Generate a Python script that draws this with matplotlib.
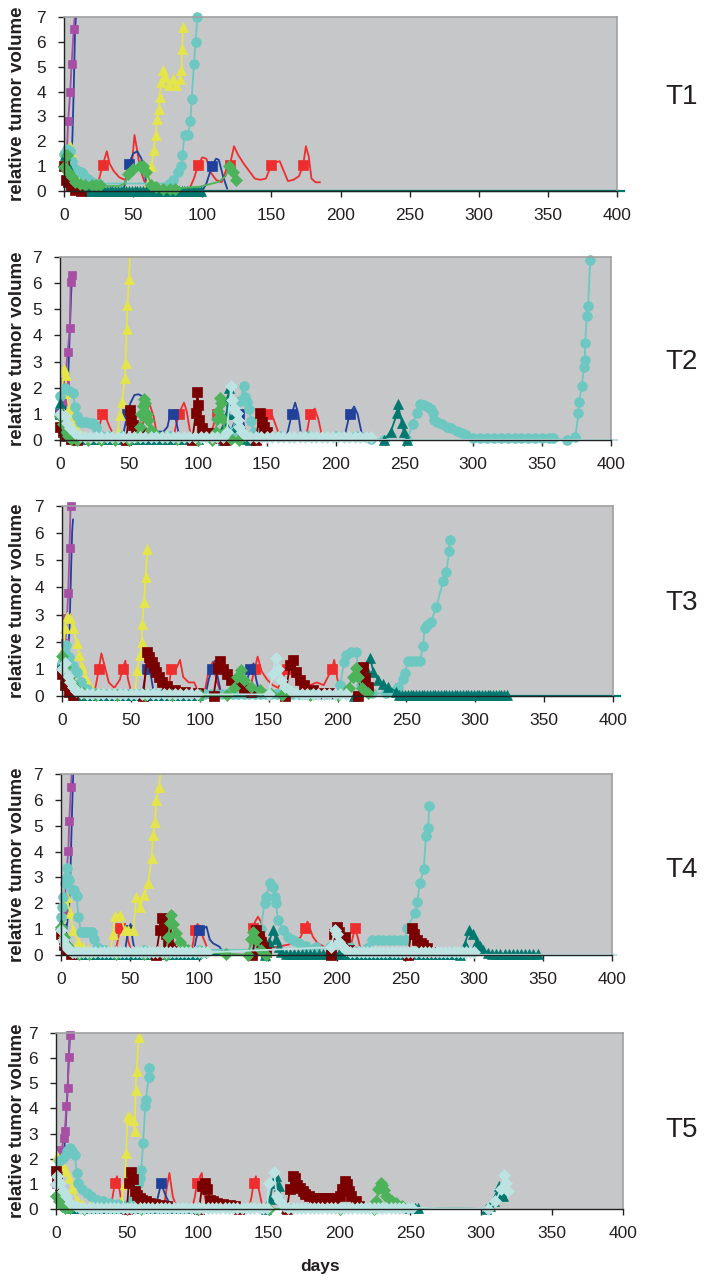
import numpy as np
import matplotlib.pyplot as plt

plt.rcParams['font.family'] = ['Liberation Sans', 'DejaVu Sans']

nan = np.nan


def days(a, b, step):
    return list(np.arange(a, b + 0.001, step))


# ---------------- T1 ----------------
t1_red_x = [22, 25, 28, 31, 33, 36, 40, 44, 47, 49, 51, 53, 55, 58, 61, 64, 90, 94, 97, 100,
            103, 106, 110, 114, 117, 120, 123, 126, 130, 134, 138, 142, 146, 150, 153, 156, 159, 162, 166, 170,
            173, 175, 177, 179, 182, 185]
t1_red_y = [0.0, 0.4, 1.05, 1.6, 1.1, 0.8, 0.55, 0.45, 0.6, 1.0, 2.25, 1.6, 0.9, 0.4, 0.15, 0.0, 0.0, 0.5, 1.05, 1.35,
            1.3, 0.75, 0.45, 0.35, 0.8, 1.05, 1.8, 1.45, 1.1, 0.8, 0.5, 0.45, 0.5, 1.05, 1.15, 1.2, 0.8, 0.4, 0.45, 0.6,
            1.05, 1.8, 1.4, 0.5, 0.35, 0.35]
t1_red_mark = [2, 18, 25, 33, 40]
t1_navy_x = [0, 2, 4, 6, 7, 8, 9.5, nan, 43, 45, 47, 50, 53, 56, 59, 61, nan, 100, 103, 107, 110, 112, 115, 118]
t1_navy_y = [1.0, 0.9, 1.0, 2.0, 4.0, 6.5, 7.6, nan, 0.0, 0.5, 1.1, 1.5, 1.6, 1.3, 0.5, 0.0, nan, 0.0, 0.3, 1.0, 1.3, 1.25, 0.6, 0.1]
t1_navy_mark = [0, 10, 19]
t1_purple_x = [0, 1, 2, 3, 4.5, 5.5, 7, 8.5]
t1_purple_y = [1.0, 1.1, 1.5, 2.8, 4.0, 5.1, 6.5, 7.6]
t1_yellow_x = [0, 2, 4, 6, 8, 10, 13, 16, 20, 30, 45, 59, 63.2, 64.9, 66.3, 67.3, 68.8, 69.2, 70.4, 71.6,
               73.3, 75.7, 78.8, 81.2, 83.7, 84.9, 85.5, 86.0]
t1_yellow_y = [1.2, 1.6, 1.8, 1.5, 0.9, 0.5, 0.2, 0.1, 0.05, 0.05, 0.05, 0.1, 1.0, 1.65, 2.25, 2.9, 3.3, 3.8, 4.4, 4.85,
               4.6, 4.25, 4.5, 4.25, 4.5, 4.85, 5.7, 6.6]
t1_turq_x = [0, 2, 4, 6, 8, 10, 12, 14, 17, 20, 25, 76, 79, 82.5, 84.5, 85.5, 87.3, 89.7, 91.5, 92.3, 94, 95.2, 96.4]
t1_turq_y = [1.5, 1.7, 1.6, 1.2, 0.9, 0.8, 0.75, 0.7, 0.5, 0.35, 0.3, 0.3, 0.44, 0.78, 1.0, 1.45, 2.25, 2.25, 2.8, 3.7, 5.1, 6.0, 7.0]
t1_teal_x = [0.7, 1.9, 4.3, 6.7, 9.1, 12.7, 17.5] + days(19, 99, 2)
t1_teal_y = [1.45, 1.1, 0.84, 0.58, 0.37, 0.17, 0.04] + [0.02] * 41
t1_darkred_x = [0, 1.4, 3, 5, 8, 12]
t1_darkred_y = [1.0, 0.44, 0.35, 0.2, 0.05, 0.0]
t1_green_x = [0, 2, 3, 5.5, 8, 11.5, 15, 20, 23.5, 26, 32, 40, 44, 46.5, 50, 54.8, 57.2, 59.6, 63.2, 66.8,
              71.6, 76.4, 80, 98, 112, 117, 119.7, 122, 124.5]
t1_green_y = [0.98, 1.45, 0.78, 0.58, 0.37, 0.27, 0.24, 0.24, 0.24, 0.24, 0.2, 0.2, 0.3, 0.7, 0.9, 1.0, 1.0, 0.78, 0.24, 0.17,
              0.1, 0.1, 0.1, 0.17, 0.37, 0.6, 1.0, 0.78, 0.44]
t1_green_mark = [0, 1, 2, 3, 4, 5, 6, 7, 8, 9, 13, 14, 15, 16, 17, 18, 19, 20, 21, 22, 26, 27, 28]
t1_tail_x = [99, 405]
t1_tail_y = [0.0, 0.0]

# ---------------- T2 ----------------
t2_red_x = [27, 29, 30.8, 33, 36, 39.7, nan, 56, 59, 62, 65, 68, 70, nan, 82, 84, 86.5, 88, 90, 92, 95, nan,
            108, 111, 114, 116, 118, 121, nan, 146, 148, 150, 152.6, 155, 158.7, nan, 178, 180, 181.5, 183, 185, 187.5, 190]
t2_red_y = [0.0, 0.6, 1.0, 0.9, 0.5, 0.13, nan, 0.0, 0.38, 1.0, 1.38, 0.9, 0.3, nan, 0.0, 0.5, 1.0, 1.2, 1.43, 1.1, 0.13, nan,
            0.0, 0.5, 1.0, 1.1, 0.7, 0.1, nan, 0.0, 0.5, 1.0, 1.15, 0.8, 0.26, nan, 0.0, 0.5, 1.0, 1.1, 1.2, 0.8, 0.2]
t2_red_mark = [2, 16, 24, 31, 38]
t2_navy_x = [0, 2, 4, 6, 7, 8, 8.8, nan, 45, 49, 51, 54, 57, 60, 63, 66, 70, 75, 78, 80, 82, 84, 86, 88, nan,
             122, 126, 130, 133, 136, nan, 164, 168.3, 170.7, 173, 175.5, nan, 206, 210.3, 213.5, 216, 219, 221]
t2_navy_y = [1.0, 0.9, 1.2, 2.5, 4.0, 5.5, 6.3, nan, 0.0, 1.0, 1.4, 1.72, 1.75, 1.66, 1.0, 0.4, 0.32, 0.32, 0.5, 1.0, 1.0, 0.8, 0.3, 0.0, nan,
             0.0, 0.6, 1.0, 0.7, 0.0, nan, 0.0, 1.0, 1.43, 1.0, 0.0, nan, 0.0, 1.0, 1.28, 1.0, 0.26, 0.0]
t2_navy_mark = [0, 9, 20, 27, 32, 38]
t2_purple_x = [0, 2, 3.5, 5.5, 7.2, 7.7, 8.5]
t2_purple_y = [1.0, 1.5, 2.2, 3.35, 4.3, 6.05, 6.3]
t2_yellow_x = [0, 1.5, 3, 4, 5, 6.5, 8, 10, 13, 17, 22, 30, 38, 42, 43.3, 45, 47, 47.6, 48.3, 49, 50, 51]
t2_yellow_y = [1.3, 2.0, 2.7, 2.5, 1.8, 1.2, 1.0, 0.7, 0.35, 0.15, 0.05, 0.03, 0.03, 0.3, 0.96, 1.47, 2.36, 2.96, 4.25, 5.16, 6.16, 7.2]
t2_turq_x = [0, 3.6, 6, 9.6, 10.8, 12, 14.4, 17, 19.2, 22, 24, 26.4, 29, 35, 45, 60, 80, 100, 115, 125,
             128, 131, 133.4, 134, 136, 137.5, 138.7, 140.6, 143, 148, 160, 180, 200, 215, 222, 226, 235, 252, 256, 259,
             261.5, 264, 266.8, 269, 270.7, 271.6, 274, 277, 280.8, 284, 288, 291.6, 295, 300, 305, 310, 315, 320, 325, 330,
             335, 340, 345, 350, 355, 358, 368, 374, 376.4, 376.9, 378.8, 380.5, 381, 381.2, 382.5, 383.4, 384.9]
t2_turq_y = [1.7, 2.0, 1.9, 1.8, 1.28, 0.9, 0.7, 0.68, 0.68, 0.66, 0.64, 0.5, 0.2, 0.15, 0.15, 0.15, 0.15, 0.15, 0.15, 0.3,
             0.9, 1.5, 2.07, 1.66, 1.45, 1.17, 0.74, 0.32, 0.2, 0.15, 0.15, 0.15, 0.15, 0.15, 0.1, 0.05, 0.0, 0.0, 0.6, 1.05,
             1.38, 1.35, 1.28, 1.2, 1.02, 0.77, 0.7, 0.6, 0.51, 0.45, 0.35, 0.26, 0.2, 0.06, 0.06, 0.06, 0.06, 0.06, 0.06, 0.06,
             0.06, 0.06, 0.06, 0.06, 0.06, 0.06, 0.0, 0.1, 1.02, 1.47, 2.07, 2.81, 3.07, 3.7, 4.75, 5.13, 6.9]
t2_teal_x = [0, 2, 4, 6, 8] + days(12, 100, 4) + [118, 120, 121, 122, 123, 124, 126, 128, 131, 134, 138] \
    + [235, 240, 244.7, 245.2, 248.3, 249.5, 252]
t2_teal_y = [1.4, 1.0, 0.5, 0.2, 0.05] + [0.02] * 23 + [0.0, 0.6, 1.0, 1.6, 2.0, 1.5, 1.0, 0.5, 0.2, 0.05, 0.0] \
    + [0.0, 0.3, 1.02, 1.38, 0.64, 0.32, 0.0]
t2_darkred_x = [0, 2, 4, 8, 12, nan, 48, 50.5, 51.7, 52.9, 55.3, 58.9, 62, nan,
                96, 98.6, 99.8, 100.5, 101, 103.4, 105.8, 108, 110.6, 114, 120, nan, 142, 145.4, 146.6, 148, 150]
t2_darkred_y = [0.5, 0.3, 0.15, 0.05, 0.0, nan, 0.0, 1.15, 0.77, 0.57, 0.38, 0.28, 0.2, nan,
                0.0, 1.02, 1.85, 1.34, 0.77, 0.45, 0.28, 0.26, 0.19, 0.06, 0.0, nan, 0.0, 1.02, 0.7, 0.5, 0.3]
t2_green_x = [0, 2, 4, 6, 8, 12, 20, 30, 40, 50, 55, 58, 59, 60, 61, 62, 63, 64, 66, 70,
              75, 85, 100, 110, 113, 114, 115, 116, 117, 118, 120, 124, 130]
t2_green_y = [0.9, 0.6, 0.3, 0.15, 0.05, 0.0, 0.0, 0.0, 0.0, 0.0, 0.1, 0.5, 1.0, 1.3, 1.55, 1.4, 1.0, 0.75, 0.4, 0.2,
              0.1, 0.05, 0.0, 0.0, 0.3, 0.8, 1.1, 1.6, 1.4, 0.8, 0.3, 0.05, 0.0]
t2_lcyan_x = [0, 3.6, 4.8, 7.2, 10.8, 14.4] + days(18, 118, 4) \
    + [121, 124.3, 125, 126.2, 128.6, 129.3, 130.3, 132.2, 134.6, 138] + days(142, 226, 4)
t2_lcyan_y = [1.0, 0.9, 0.64, 0.45, 0.26, 0.15] + [0.1] * 26 \
    + [0.3, 2.07, 1.53, 1.21, 1.02, 0.77, 0.51, 0.32, 0.19, 0.12] + [0.1] * 22
t2_tail_x = [226, 404]
t2_tail_y = [0.0, 0.0]

# ---------------- T3 ----------------
t3_red_x = [23, 25, 26.7, 28.6, 31, 34, 38, 42, 44, 46, 48, 51, nan, 76, 78, 79.3, 82, 85.7, 88, 92, 96, 100, nan,
            103, 106, 109.5, 112, 116, nan, 136, 138, 140, 142, 145, 149, 153, 157, 160, 162,
            163.6, 166, 170, 175, 180, 185, 190, 194, 196, 197.6, 200, 203]
t3_red_y = [0.0, 0.5, 1.0, 1.57, 1.1, 0.5, 0.3, 0.6, 1.0, 1.3, 0.6, 0.0, nan, 0.0, 0.5, 1.0, 0.9, 1.33, 0.7, 0.5, 0.5, 0.0, nan,
            0.0, 0.8, 1.27, 0.6, 0.0, nan, 0.0, 0.6, 1.0, 1.45, 0.9, 0.6, 0.4, 0.3, 0.6, 0.9,
            1.0, 1.3, 0.6, 0.3, 0.4, 0.5, 0.4, 0.8, 1.0, 1.33, 0.6, 0.1]
t3_red_mark = [2, 8, 15, 31, 39, 47]
t3_navy_x = [0, 2, 4, 5.5, 6.5, 7.4, 8, nan, 58, 60, 61.5, 63, 65, 67, nan, 104, 106.5, 108.8, 111, 113, 116,
             nan, 132, 134.5, 136.6, 139, 141, 144]
t3_navy_y = [1.0, 0.8, 1.2, 2.5, 4.5, 6.1, 6.5, nan, 0.0, 0.6, 1.0, 1.2, 0.6, 0.0, nan, 0.0, 0.6, 1.0, 1.3, 0.7, 0.0,
             nan, 0.0, 0.6, 1.0, 1.2, 0.6, 0.0]
t3_navy_mark = [0, 10, 17, 24]
t3_purple_x = [0, 1.2, 2.4, 3.6, 4.5, 5.5, 6.2]
t3_purple_y = [1.0, 1.3, 1.97, 2.86, 3.8, 5.44, 7.0]
t3_yellow_x = [0, 1.2, 2.4, 3.6, 6, 8.3, 10.7, 12.4, 14.3, 16.7, 19, 22, 26, 32, 40, 50, 53, 54.8, 56.5, 57.9,
               58.3, 59.5, 60.7, 61.9]
t3_yellow_y = [1.39, 1.8, 2.5, 2.9, 2.86, 2.5, 1.94, 1.5, 1.08, 0.7, 0.45, 0.25, 0.12, 0.05, 0.03, 0.03, 0.2, 0.96, 1.5, 2.0,
               2.65, 3.45, 4.37, 5.4]
t3_turq_x = [0, 2, 2.9, 4.8, 8, 10.7, 14, 18, 24] + days(28, 200, 4) \
    + [202, 204.8, 206, 209.5, 213.6, 215, 217, 220, 225] \
    + [235, 240, 244, 247.6, 249.3, 251, 254, 257.3, 260, 262, 263.3, 265, 267.7, 271.8, 276.7, 279.1, 281.1, 281.6]
t3_turq_y = [1.2, 1.6, 1.88, 1.45, 1.1, 0.9, 0.5, 0.25, 0.12] + [0.08] * 44 \
    + [0.4, 1.27, 1.51, 1.63, 1.63, 1.0, 0.4, 0.2, 0.1] \
    + [0.1, 0.15, 0.34, 0.61, 0.86, 1.3, 1.3, 1.3, 1.3, 1.85, 2.49, 2.6, 2.71, 3.29, 4.24, 4.58, 5.34, 5.75]
t3_teal_x = [0, 2, 4, 6, 9] + days(12, 99, 3) + [212, 218, 221, 223.8, 226, 229.4, 233, 236.6, 242.7] + days(245, 323, 2)
t3_teal_y = [1.2, 0.8, 0.45, 0.2, 0.05] + [0.02] * 30 + [0.0, 0.3, 1.0, 1.39, 0.9, 0.6, 0.45, 0.34, 0.16] + [0.03] * 40
t3_darkred_x = [0, 2, 5, 8, nan, 59, 61.9, 63, 65.5, 66.7, 67.9, 70.2, 72.6, 76.2, 82, 89, 99, nan,
                110, 113, 115, 117, 120, 122.6, 127.4, 132, 137, nan, 162, 165.5, 168, 170.2, 172.6, 176, 182, 190.5, 194,
                nan, 215, 218.4, 219.7, 222]
t3_darkred_y = [0.8, 0.4, 0.15, 0.05, nan, 0.0, 1.63, 1.45, 1.27, 1.08, 0.9, 0.71, 0.53, 0.37, 0.22, 0.16, 0.1, nan,
                0.0, 1.02, 1.3, 1.0, 0.8, 0.59, 0.41, 0.28, 0.16, nan, 0.0, 1.14, 1.33, 0.9, 0.59, 0.41, 0.22, 0.12, 0.1,
                nan, 0.0, 1.08, 0.65, 0.34]
t3_green_x = [0, 2.4, 4.8, 7.1, 10, 15, 25, 40, 60, 80, 100, 120, 125, 127, 129.8, 132, 136.9, 144, 151, 160,
              180, 200, 208, 211, 213.6, 215, 218, 222]
t3_green_y = [1.47, 1.08, 0.71, 0.47, 0.25, 0.1, 0.03, 0.02, 0.02, 0.02, 0.02, 0.02, 0.3, 0.7, 0.96, 0.6, 0.34, 0.22, 0.1, 0.05,
              0.03, 0.03, 0.3, 0.7, 1.02, 0.7, 0.3, 0.1]
t3_lcyan_x = [0, 2, 4, 6, 8, 10, 14] + days(18, 100, 4) + [150, 153, 155, 157, 159, 162, 166, 170] + days(174, 206, 4)
t3_lcyan_y = [1.0, 1.2, 0.75, 0.5, 0.35, 0.2, 0.1] + [0.06] * 21 + [0.06, 0.8, 1.39, 1.0, 0.6, 0.35, 0.2, 0.1] + [0.06] * 9
t3_tail_x = [323, 405]
t3_tail_y = [0.0, 0.0]

# ---------------- T4 ----------------
t4_red_x = [39, 41, 42.8, 45, 47, 49, 52, nan, 94, 96, 97.1, 99, 101, 103, 106, nan,
            136, 138, 139.4, 141, 143, 145, 146.6, 149, 151.4, 155, 160, 165, 170, 174, 176.8, 179, 182.8, 186.4, 191,
            nan, 209, 211, 213.3, 215.7, 217]
t4_red_y = [0.0, 0.5, 1.03, 1.2, 1.1, 0.5, 0.0, nan, 0.0, 0.5, 0.97, 1.2, 1.1, 0.7, 0.3, nan,
            0.0, 0.5, 1.03, 1.3, 1.48, 1.3, 0.97, 0.45, 0.26, 0.3, 0.35, 0.4, 0.5, 0.7, 1.03, 1.29, 0.71, 0.45, 0.32,
            nan, 0.0, 0.5, 1.03, 0.64, 0.32]
t4_red_mark = [2, 10, 18, 30, 38]
t4_navy_x = [0, 2, 4, 6, 7, 8, 9, nan, 46, 48.8, 50.5, 52, 54, nan, 96, 98, 100, 103, 105.6, 108, 110.4, 113, 115, 116.7]
t4_navy_y = [1.0, 0.8, 1.0, 2.0, 3.5, 5.5, 7.3, nan, 0.0, 0.97, 1.2, 0.6, 0.0, nan, 0.0, 0.6, 0.97, 1.0, 1.1, 0.6, 0.45, 0.38, 0.32, 0.19]
t4_navy_mark = [0, 9, 16]
t4_purple_x = [0, 1.7, 2.9, 3.6, 5.3, 6, 7.2, 8.2]
t4_purple_y = [1.0, 1.74, 2.25, 2.9, 4.03, 5.18, 6.48, 7.5]
t4_yellow_x = [0, 2, 4.1, 6.5, 8.9, 12.6, 16, 20, 26, 32, 36, 38, 39, 42.8, 46.4, 49, 52.4, 54.8, 57.2, 60.4,
               63.3, 65.7, 66.9, 68.1, 69.3, 71.3, 72.5]
t4_yellow_y = [1.5, 2.0, 2.25, 1.61, 0.97, 0.52, 0.3, 0.2, 0.15, 0.15, 0.2, 0.8, 1.5, 1.55, 0.97, 0.97, 0.97, 2.25, 1.87, 2.32,
               2.77, 3.74, 4.64, 5.15, 5.99, 6.5, 7.3]
t4_turq_x = [0, 0.5, 1.7, 2.9, 4.1, 4.5, 6, 7.7, 9.5, 11.4, 12.6, 14.5, 16.5, 18.6, 20.5, 22.2, 24, 25.8, 28, 32,
             60, 100, 140, 143, 145, 147.8, 149, 151.4, 153.9, 155, 156, 157.5, 161, 164.7, 168.4, 173, 178, 185, 195, 210,
             221.8, 226, 230, 234, 238, 242, 246, 250, 251, 257, 258.6, 260.5, 263.4, 264.9, 266.6, 267.3]
t4_turq_y = [1.48, 1.87, 2.25, 2.77, 3.03, 3.35, 2.9, 2.5, 2.5, 2.3, 1.48, 0.9, 0.9, 0.9, 0.9, 0.9, 0.6, 0.32, 0.25, 0.2,
             0.2, 0.2, 0.2, 0.5, 1.0, 2.0, 2.25, 2.77, 2.64, 2.25, 2.0, 1.35, 0.97, 0.71, 0.58, 0.45, 0.35, 0.3, 0.3, 0.3,
             0.26, 0.58, 0.58, 0.58, 0.58, 0.58, 0.58, 0.58, 1.03, 1.61, 2.04, 2.77, 3.32, 4.6, 4.92, 5.77]
t4_teal_x = [0, 2, 4, 6, 8, 11] + days(14, 98, 3) + [148, 151, 153.9, 156, 158, 160] + days(163, 289, 3) \
    + [290, 293, 296.4, 299, 301.7, 304, 306.5, 310] + days(313, 346, 3)
t4_teal_y = [1.2, 0.85, 0.5, 0.25, 0.1, 0.03] + [0.02] * 29 + [0.0, 0.5, 0.97, 0.6, 0.3, 0.1] + [0.05] * 43 \
    + [0.0, 0.4, 0.97, 0.8, 0.52, 0.35, 0.19, 0.08] + [0.05] * 12
t4_darkred_x = [0, 2, 4, 7, nan, 69, 71.7, 73, 74.5, 76, 77.8, 79, 81, nan, 139, 141.8, 143.5, 145, 146.6, 149,
                nan, 196, 198, 200, 202, 206, 209, nan, 252, 254.5, 256, 258.1, 261, 263, 265.4, 268]
t4_darkred_y = [0.8, 0.4, 0.2, 0.05, nan, 0.0, 0.97, 1.42, 1.1, 0.8, 0.52, 0.32, 0.15, nan, 0.0, 0.97, 0.75, 0.5, 0.32, 0.1,
                nan, 0.0, 0.8, 1.1, 0.9, 0.7, 0.2, nan, 0.0, 1.03, 0.8, 0.58, 0.45, 0.39, 0.26, 0.1]
t4_green_x = [0, 2, 4, 6, 9, 13, 20, 40, 60, 76, 78, 79, 80.2, 81.5, 83.8, 86.2, 88.6, 92, 97, 102,
              105, 120, 136, 138, 139.4, 141.8, 145.4, 149]
t4_green_y = [1.1, 0.7, 0.4, 0.2, 0.1, 0.05, 0.02, 0.02, 0.02, 0.0, 0.7, 1.22, 1.55, 1.2, 0.84, 0.52, 0.32, 0.2, 0.12, 0.1,
              0.1, 0.05, 0.0, 0.6, 0.9, 0.58, 0.19, 0.0]
t4_lcyan_x = [0, 1.7, 3, 5, 8] + days(10, 106, 3) + [196, 198.8, 200, 202, 204, 207] + days(210, 300, 3)
t4_lcyan_y = [0.97, 0.58, 0.4, 0.25, 0.12] + [0.1] * 33 + [0.3, 0.97, 0.8, 0.52, 0.35, 0.19] + [0.1] * 31
t4_tail_x = [300, 403]
t4_tail_y = [0.0, 0.0]

# ---------------- T5 ----------------
t5_red_x = [38, 40, 41.5, 43, 45, 47, nan, 76, 78, 80, 82.4, 84.8, nan, 96, 98, 99.4, 101, 102.8, 104.5, 107,
            nan, 136, 138, 139.4, 141, 143, 146]
t5_red_y = [0.0, 0.5, 1.03, 1.3, 0.7, 0.0, nan, 0.0, 0.8, 1.43, 0.5, 0.1, nan, 0.0, 0.5, 1.03, 1.2, 1.43, 0.6, 0.0,
            nan, 0.0, 0.5, 1.03, 1.3, 0.8, 0.0]
t5_red_mark = [2, 15, 23]
t5_navy_x = [0, 2, 4, 6, 8, 9, 9.8, nan, 70, 72.4, 74.2, 76.6, 78, 80, 82]
t5_navy_y = [1.0, 0.9, 1.2, 2.5, 4.5, 6.0, 7.2, nan, 0.0, 0.6, 1.03, 0.64, 0.45, 0.24, 0.0]
t5_navy_mark = [0, 10]
t5_purple_x = [0, 1.5, 2.8, 3.5, 5.9, 6.3, 7.3, 8.2, 9.1, 10.1]
t5_purple_y = [1.0, 1.3, 1.7, 2.36, 2.82, 3.12, 4.08, 4.81, 6.03, 6.94]
t5_yellow_x = [0, 0.5, 3, 5.2, 7, 9.1, 11, 14.5, 18, 24, 32, 40, 46, 48.5, 49.5, 50.5, 52.5, 54.3, 55.5, 56.2, 56.8, 58.5]
t5_yellow_y = [1.5, 2.1, 1.9, 1.7, 1.5, 1.23, 0.84, 0.37, 0.2, 0.1, 0.05, 0.05, 0.3, 1.0, 2.23, 3.69, 3.6, 3.55, 3.09, 4.75, 5.48, 6.84]
t5_turq_x = [0, 2, 4, 6.3, 8, 9.9, 11.5, 13.4, 14.5, 15.7, 18, 21.7, 25, 28.7, 33, 38, 44, 50, 54, 56,
             57.5, 59, 60.2, 61.4, 63, 63.5, 65.3, 65.8]
t5_turq_y = [1.5, 1.9, 2.0, 2.1, 2.3, 2.43, 2.3, 2.16, 1.43, 1.03, 0.8, 0.64, 0.5, 0.37, 0.3, 0.24, 0.2, 0.17, 0.4, 0.8,
             1.0, 1.23, 1.56, 2.63, 4.08, 4.35, 5.24, 5.61]
t5_teal_x = [0, 2, 4, 6, 8, 11] + days(14, 98, 3) + [148, 151, 153, 155, 157, 159, 162] + [249, 251, 253, 255.5] \
    + [303.5, 306, 309, 311, 312.7, 313.9, 315]
t5_teal_y = [1.2, 0.8, 0.5, 0.25, 0.1, 0.03] + [0.02] * 29 + [0.0, 0.4, 1.03, 1.3, 0.9, 0.4, 0.05] + [0.02, 0.02, 0.02, 0.04] \
    + [0.0, 0.1, 0.3, 0.6, 0.9, 0.7, 0.5]
t5_darkred_x = [0, 1, 3, 5, 8, nan, 50, 51.4, 53.1, 54, 55.5, 57, 59, 61, 63.7, 66, 70, 74, 78, nan,
                101, 103, 105, 106.5, 108.7, 111, 113.5, 118, 122.9, 126, 128.8, nan,
                163, 165, 167, 168.5, 170, 172, 174, 176, 178.7, 182, 186, 190, 194, 197, 200, 202, 204.2, 205.5, 206.6, 208,
                211.3, 214]
t5_darkred_y = [1.5, 1.2, 0.6, 0.3, 0.1, nan, 0.0, 1.03, 1.47, 1.2, 0.7, 0.55, 0.44, 0.35, 0.3, 0.25, 0.2, 0.15, 0.1, nan,
                0.0, 0.9, 1.03, 0.8, 0.37, 0.3, 0.24, 0.2, 0.17, 0.1, 0.0, nan,
                0.0, 0.8, 1.3, 1.25, 0.97, 0.85, 0.7, 0.6, 0.5, 0.44, 0.44, 0.44, 0.44, 0.44, 0.5, 0.8, 1.1, 1.0, 0.7, 0.5,
                0.3, 0.1]
t5_green_x = [0, 2, 4, 6, 10, 20, 60, 100, 150, 200, 224, 226, 227.5, 229, 230, 231.4, 232.5, 235, 237.3, 239.6, 244]
t5_green_y = [0.5, 0.3, 0.1, 0.05, 0.02, 0.0, 0.0, 0.0, 0.0, 0.0, 0.0, 0.3, 0.8, 1.03, 0.95, 0.77, 0.5, 0.4, 0.3, 0.24, 0.1]
t5_lcyan_x = [0, 1, 2.8, 5.2, 7, 10, 14] + days(17, 149, 3) + [150, 153.7, 155.9, 158, 160.6, 164] + days(167, 251, 3) \
    + [305, 310, 314, 316.3, 317.5, 318.6]
t5_lcyan_y = [1.0, 1.3, 1.03, 0.7, 0.5, 0.25, 0.1] + [0.05] * 45 + [1.03, 1.47, 0.5, 0.3, 0.1, 0.05] + [0.05] * 29 \
    + [0.0, 0.3, 0.8, 1.34, 1.03, 0.7]

panel_names = ['T1', 'T2', 'T3', 'T4', 'T5']
x_ticks = [0, 50, 100, 150, 200, 250, 300, 350, 400]
y_ticks = [0, 1, 2, 3, 4, 5, 6, 7]

# colour, marker, marker size
styles = {
    'red': ('#EE2D2F', 's', 7),
    'navy': ('#20409A', 's', 7),
    'purple': ('#A64FA4', 's', 6),
    'yellow': ('#E4E54A', '^', 7.5),
    'turq': ('#6DC8C2', 'o', 7),
    'teal': ('#00786F', '^', 6.5),
    'darkred': ('#7A0000', 's', 7.5),
    'green': ('#4DB35B', 'D', 6),
    'lcyan': ('#BCE2E1', 'D', 6.5),
}

panels = [
    [('red', t1_red_x, t1_red_y, t1_red_mark), ('navy', t1_navy_x, t1_navy_y, t1_navy_mark),
     ('purple', t1_purple_x, t1_purple_y, None), ('yellow', t1_yellow_x, t1_yellow_y, None),
     ('turq', t1_turq_x, t1_turq_y, None), ('teal', t1_teal_x, t1_teal_y, None),
     ('darkred', t1_darkred_x, t1_darkred_y, None), ('green', t1_green_x, t1_green_y, t1_green_mark)],
    [('red', t2_red_x, t2_red_y, t2_red_mark), ('navy', t2_navy_x, t2_navy_y, t2_navy_mark),
     ('purple', t2_purple_x, t2_purple_y, None), ('yellow', t2_yellow_x, t2_yellow_y, None),
     ('turq', t2_turq_x, t2_turq_y, None), ('teal', t2_teal_x, t2_teal_y, None),
     ('darkred', t2_darkred_x, t2_darkred_y, None), ('green', t2_green_x, t2_green_y, None),
     ('lcyan', t2_lcyan_x, t2_lcyan_y, None)],
    [('red', t3_red_x, t3_red_y, t3_red_mark), ('navy', t3_navy_x, t3_navy_y, t3_navy_mark),
     ('purple', t3_purple_x, t3_purple_y, None), ('yellow', t3_yellow_x, t3_yellow_y, None),
     ('turq', t3_turq_x, t3_turq_y, None), ('teal', t3_teal_x, t3_teal_y, None),
     ('darkred', t3_darkred_x, t3_darkred_y, None), ('green', t3_green_x, t3_green_y, None),
     ('lcyan', t3_lcyan_x, t3_lcyan_y, None)],
    [('red', t4_red_x, t4_red_y, t4_red_mark), ('navy', t4_navy_x, t4_navy_y, t4_navy_mark),
     ('purple', t4_purple_x, t4_purple_y, None), ('yellow', t4_yellow_x, t4_yellow_y, None),
     ('turq', t4_turq_x, t4_turq_y, None), ('teal', t4_teal_x, t4_teal_y, None),
     ('darkred', t4_darkred_x, t4_darkred_y, None), ('green', t4_green_x, t4_green_y, None),
     ('lcyan', t4_lcyan_x, t4_lcyan_y, None)],
    [('red', t5_red_x, t5_red_y, t5_red_mark), ('navy', t5_navy_x, t5_navy_y, t5_navy_mark),
     ('purple', t5_purple_x, t5_purple_y, None), ('yellow', t5_yellow_x, t5_yellow_y, None),
     ('turq', t5_turq_x, t5_turq_y, None), ('teal', t5_teal_x, t5_teal_y, None),
     ('darkred', t5_darkred_x, t5_darkred_y, None), ('green', t5_green_x, t5_green_y, None),
     ('lcyan', t5_lcyan_x, t5_lcyan_y, None)],
]
tails = [('teal', t1_tail_x, t1_tail_y), ('lcyan', t2_tail_x, t2_tail_y), ('teal', t3_tail_x, t3_tail_y),
         ('lcyan', t4_tail_x, t4_tail_y), None]

W, H = 727, 1280
fig = plt.figure(figsize=(W / 100, H / 100), dpi=100)
fig.patch.set_facecolor('white')

# plot area edges in pixels: left, right, top, bottom
boxes = [(64, 617, 17, 191), (60, 611, 257, 440), (62, 613, 506, 696), (61, 612, 774, 955), (56, 623, 1033, 1209)]
label_pos = [(682, 97), (682, 362), (682, 603), (682, 870), (682, 1130)]

for i, (l, r, t, b) in enumerate(boxes):
    ax = fig.add_axes([l / W, 1 - b / H, (r - l) / W, (b - t) / H])
    ax.set_facecolor('#C6C7C9')
    for key, x, y, mark in panels[i]:
        c, m, ms = styles[key]
        # like the spreadsheet, markers sitting on the floor are not cut in half
        ax.plot(x, y, color=c, lw=1.3, marker=m, ms=ms, mfc=c, mec=c, mew=0.5,
                markevery=mark, solid_joinstyle='round', clip_on=bool(np.nanmax(y) > 7))
    if tails[i] is not None:
        key, x, y = tails[i]
        ax.plot(x, y, color=styles[key][0], lw=1.6, clip_on=False)
    ax.set_xlim(0, 400)
    ax.set_ylim(0, 7)
    ax.set_xticks(x_ticks)
    ax.set_yticks(y_ticks)
    ax.tick_params(direction='out', length=4, width=1, color='#222222', labelsize=12.5,
                   labelcolor='#231F20')
    ax.tick_params(axis='x', pad=8)
    ax.tick_params(axis='y', pad=9)
    for s in ['top', 'right']:
        ax.spines[s].set_color('#A0A0A0')
        ax.spines[s].set_linewidth(1.2)
    for s in ['left', 'bottom']:
        ax.spines[s].set_color('#222222')
        ax.spines[s].set_linewidth(1)
    fig.text(18 / W, 1 - (t + b) / 2 / H, 'relative tumor volume', rotation=90, ha='center', va='center',
             fontsize=13.5, fontweight='bold', color='#231F20')
    fig.text(label_pos[i][0] / W, 1 - label_pos[i][1] / H, panel_names[i], ha='center', va='center',
             fontsize=20, color='#231F20')

fig.text(320 / W, 1 - 1266 / H, 'days', ha='center', va='center', fontsize=12.5, fontweight='bold', color='#231F20')

fig.savefig('out.png', dpi=100)
